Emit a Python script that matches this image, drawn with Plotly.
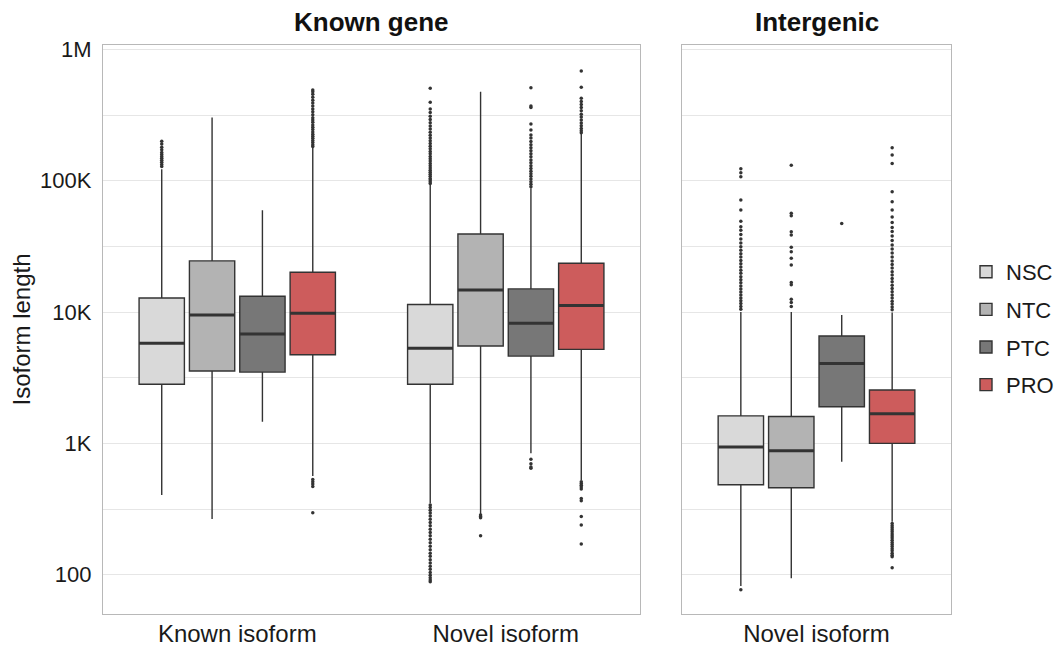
import plotly.graph_objects as go

groups = ["NSC", "NTC", "PTC", "PRO"]
fill_colors = {"NSC": "#d9d9d9", "NTC": "#b3b3b3", "PTC": "#777777", "PRO": "#cd5c5c"}

cats_known_gene = ["Known isoform", "Novel isoform"]
cats_intergenic = ["Novel isoform"]

# Known gene panel: [Known isoform, Novel isoform]
kg_q1 = {"NSC": [2820, 2820], "NTC": [3560, 5510], "PTC": [3490, 4620], "PRO": [4730, 5200]}
kg_median = {"NSC": [5780, 5290], "NTC": [9490, 14700], "PTC": [6800, 8200], "PRO": [9770, 11200]}
kg_q3 = {"NSC": [12800, 11400], "NTC": [24500, 39300], "PTC": [13200, 15000], "PRO": [20100, 23500]}
kg_lower = {"NSC": [404, 350], "NTC": [266, 290], "PTC": [1460, 840], "PRO": [564, 526]}
kg_upper = {"NSC": [122000, 92600], "NTC": [303000, 476000], "PTC": [59500, 87400], "PRO": [178000, 227000]}
# sample points per box: the whisker ends plus the outliers beyond them
kg_points = {
    "NSC": [
        [404, 122000,
         128000, 133000, 138000, 143000, 148000, 153000, 158000, 164000, 172000, 180000, 190000, 200000],
        [350, 92600,
         95000, 98000, 101000, 104000, 108000, 112000, 116000, 120000, 125000, 130000, 135000, 141000,
         147000, 153000, 160000, 167000, 175000, 183000, 192000, 201000, 211000, 222000, 234000, 247000,
         261000, 276000, 292000, 310000, 330000, 352000, 395000, 505000,
         340, 325, 310, 295, 280, 265, 250, 236, 222, 210, 198, 186, 175, 165, 155, 146, 138, 130,
         123, 116, 110, 104, 99, 95, 91, 88.5],
    ],
    "NTC": [
        [266, 303000],
        [290, 476000, 285, 278, 272, 198],
    ],
    "PTC": [
        [1460, 59500],
        [840, 87400,
         90000, 94000, 98000, 103000, 108000, 113000, 118000, 124000, 130000, 137000, 144000, 152000,
         160000, 169000, 178000, 188000, 199000, 211000, 223000, 243000, 270000, 361000, 370000, 510000,
         757, 700, 660, 646],
    ],
    "PRO": [
        [564, 178000,
         182000, 188000, 195000, 202000, 210000, 218000, 226000, 235000, 245000, 255000, 266000, 278000,
         290000, 302000, 318000, 335000, 352000, 370000, 390000, 410000, 432000, 455000, 475000, 490000,
         530, 510, 490, 470, 297],
        [526, 227000,
         232000, 240000, 250000, 262000, 275000, 290000, 305000, 320000, 340000, 360000, 380000, 400000,
         424000, 514000, 684000,
         510, 495, 480, 465, 450, 380, 365, 277, 239, 171],
    ],
}

# Intergenic panel: [Novel isoform]
ig_q1 = {"NSC": [484], "NTC": [459], "PTC": [1900], "PRO": [1000]}
ig_median = {"NSC": [938], "NTC": [880], "PTC": [4060], "PRO": [1680]}
ig_q3 = {"NSC": [1620], "NTC": [1600], "PTC": [6570], "PRO": [2550]}
ig_lower = {"NSC": [82], "NTC": [94], "PTC": [724], "PRO": [253]}
ig_upper = {"NSC": [10000], "NTC": [10000], "PTC": [9480], "PRO": [9900]}
ig_points = {
    "NSC": [[82, 10000,
             10500, 11000, 11600, 12200, 12800, 13500, 14200, 15000, 15800, 16700, 17600, 18600, 19700,
             20800, 22000, 23300, 24700, 26200, 27800, 29500, 31400, 33500, 36000, 39000, 42000, 44600,
             49000, 59800, 71300, 107000, 115000, 123000, 77]],
    "NTC": [[94, 10000,
             11000, 11800, 12500, 16100, 16800, 22800, 25700, 28800, 31100, 38600, 40800, 54000, 56400,
             131000]],
    "PTC": [[724, 9480, 47300]],
    "PRO": [[253, 9900,
             10400, 10900, 11500, 12100, 12800, 13500, 14300, 15100, 16000, 17000, 18000, 19100, 20300,
             21600, 23000, 24500, 26200, 28100, 30200, 32400, 35000, 38000, 41000, 44000, 48000, 53000,
             59800, 69200, 82400, 135000, 157000, 178000,
             245, 236, 228, 220, 212, 204, 197, 190, 183, 176, 170, 164, 158, 152, 146, 141, 137, 113]],
}

y_tickvals = [100, 1000, 10000, 100000, 1000000]
y_ticktext = ["100", "1K", "10K", "100K", "1M"]
y_minor_vals = [316.2, 3162, 31623, 316228]

FONT = "Liberation Sans, Arial, sans-serif"
TEXT = "#1a1a1a"
LINE = "#333333"

fig = go.Figure()

for g in groups:
    common = dict(
        name=g,
        legendgroup=g,
        offsetgroup=g,
        fillcolor=fill_colors[g],
        line=dict(color=LINE, width=1.4),
        whiskerwidth=0,
        boxpoints="outliers",
        jitter=0,
        pointpos=0,
        marker=dict(color=LINE, size=3.5, line=dict(width=0)),
        hoverinfo="skip",
    )
    fig.add_trace(go.Box(
        x=cats_known_gene, y=kg_points[g],
        q1=kg_q1[g], median=kg_median[g], q3=kg_q3[g],
        lowerfence=kg_lower[g], upperfence=kg_upper[g],
        xaxis="x", yaxis="y", alignmentgroup="known_gene", showlegend=True, **common))
    fig.add_trace(go.Box(
        x=cats_intergenic, y=ig_points[g],
        q1=ig_q1[g], median=ig_median[g], q3=ig_q3[g],
        lowerfence=ig_lower[g], upperfence=ig_upper[g],
        xaxis="x2", yaxis="y2", alignmentgroup="intergenic", showlegend=False, **common))

# thicker median bars (ggplot-style), drawn in the same dodge slots
for g in groups:
    med = dict(
        name=g, legendgroup=g, offsetgroup=g, showlegend=False,
        fillcolor="rgba(0,0,0,0)", line=dict(color=LINE, width=3),
        whiskerwidth=0, boxpoints=False, hoverinfo="skip",
    )
    fig.add_trace(go.Box(
        x=cats_known_gene, q1=kg_median[g], median=kg_median[g], q3=kg_median[g],
        lowerfence=kg_median[g], upperfence=kg_median[g],
        xaxis="x", yaxis="y", alignmentgroup="known_gene", **med))
    fig.add_trace(go.Box(
        x=cats_intergenic, q1=ig_median[g], median=ig_median[g], q3=ig_median[g],
        lowerfence=ig_median[g], upperfence=ig_median[g],
        xaxis="x2", yaxis="y2", alignmentgroup="intergenic", **med))

W, H = 1059, 648
panel_top, panel_bottom = 45, 614
ydom = [1 - panel_bottom / H, 1 - panel_top / H]

axis_common = dict(
    showline=True, mirror=True, linecolor="#b8b8b8", linewidth=1.2,
    zeroline=False, ticks="", automargin=False,
)

fig.update_layout(
    width=W, height=H,
    margin=dict(l=0, r=0, t=0, b=0, autoexpand=False),
    paper_bgcolor="white", plot_bgcolor="white",
    boxmode="group", boxgap=0.25, boxgroupgap=0.1,
    font=dict(family=FONT, color=TEXT),
    xaxis=dict(domain=[103 / W, 640 / W], type="category", range=[-0.5, 1.5],
               showgrid=False, tickfont=dict(size=24, color=TEXT), ticklabelstandoff=-2,
               anchor="y", **axis_common),
    xaxis2=dict(domain=[682 / W, 951 / W], type="category", range=[-0.5, 0.5],
                showgrid=False, tickfont=dict(size=24, color=TEXT), ticklabelstandoff=-2,
                anchor="y2", **axis_common),
    yaxis=dict(domain=ydom, type="log", range=[1.701, 6.033],
               tickvals=y_tickvals, ticktext=y_ticktext,
               tickfont=dict(size=22, color=TEXT), ticklabelstandoff=6,
               showgrid=True, gridcolor="#e6e6e6", gridwidth=1,
               minor=dict(tickvals=y_minor_vals, showgrid=True, gridcolor="#e6e6e6", gridwidth=1),
               title=dict(text="Isoform length", font=dict(size=24, color=TEXT), standoff=2),
               anchor="x", **axis_common),
    yaxis2=dict(domain=ydom, type="log", range=[1.701, 6.033], matches="y",
                tickvals=y_tickvals, showticklabels=False,
                showgrid=True, gridcolor="#e6e6e6", gridwidth=1,
                minor=dict(tickvals=y_minor_vals, showgrid=True, gridcolor="#e6e6e6", gridwidth=1),
                anchor="x2", **axis_common),
    legend=dict(x=966 / W, y=1 - 251 / H, xanchor="left", yanchor="top",
                font=dict(size=22, color=TEXT), tracegroupgap=6,
                traceorder="grouped", bgcolor="rgba(0,0,0,0)"),
    annotations=[
        dict(text="<b>Known gene</b>", x=(103 + 640) / 2 / W, y=1 - 22 / H, xref="paper", yref="paper",
             showarrow=False, xanchor="center", yanchor="middle", font=dict(size=26, color="#111111")),
        dict(text="<b>Intergenic</b>", x=(682 + 951) / 2 / W, y=1 - 22 / H, xref="paper", yref="paper",
             showarrow=False, xanchor="center", yanchor="middle", font=dict(size=26, color="#111111")),
    ],
)

fig.write_html("out.html")
